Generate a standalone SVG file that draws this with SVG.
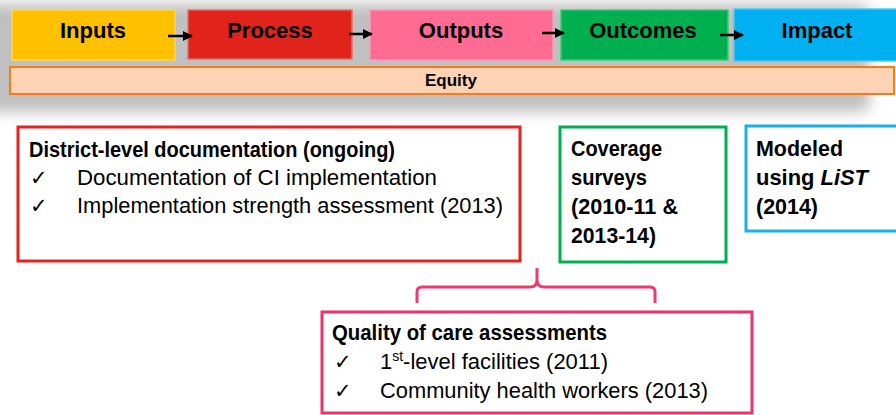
<svg xmlns="http://www.w3.org/2000/svg" width="896" height="415" viewBox="0 0 896 415">
<defs>
<filter id="blur" x="-10%" y="-30%" width="120%" height="160%"><feGaussianBlur stdDeviation="7"/></filter>
<marker id="arr" viewBox="0 0 10 10" refX="9" refY="5" markerWidth="4" markerHeight="4" orient="auto" markerUnits="strokeWidth"><path d="M0,0 L10,5 L0,10 z" fill="#000"/></marker>
</defs>
<style>
text{font-family:"Liberation Sans",Arial,sans-serif;fill:#000}
.hd{font-size:22px;font-weight:bold;text-anchor:middle}
.b{font-size:22px;font-weight:bold}
.r{font-size:22px}
.ck{font-family:"DejaVu Sans",sans-serif;font-size:21px}
.box{fill:#fff;stroke-width:3}
.conn{fill:none;stroke:#000;stroke-width:2.5;marker-end:url(#arr)}
</style>
<rect x="-30" y="4" width="900" height="108" rx="10" fill="#c0c0c0" filter="url(#blur)"/>
<g id="inputs"><rect x="12" y="10" width="163" height="50" fill="#FFC000" stroke="#FFD84A" stroke-width="1.5"/><text class="hd" x="93" y="38">Inputs</text></g>
<g id="process"><rect x="188" y="10" width="164" height="49" fill="#E0241B" stroke="#F06A60" stroke-width="1.5"/><text class="hd" x="270" y="38">Process</text></g>
<g id="outputs"><rect x="370" y="10" width="183" height="50" fill="#FF6B92" stroke="#FF9AB6" stroke-width="1.5"/><text class="hd" x="461" y="38">Outputs</text></g>
<g id="outcomes"><rect x="561" y="10" width="167" height="50" fill="#00B050" stroke="#3ACB7A" stroke-width="1.5"/><text class="hd" x="643" y="38">Outcomes</text></g>
<g id="impact"><rect x="734" y="9" width="170" height="52" fill="#00B0F0" stroke="#45CCFA" stroke-width="1.5"/><text class="hd" x="817" y="38">Impact</text></g>
<g id="connectors">
<line class="conn" x1="168" y1="36" x2="192" y2="36"/>
<line class="conn" x1="349" y1="34" x2="372" y2="34"/>
<line class="conn" x1="542" y1="33" x2="564" y2="33"/>
<line class="conn" x1="720" y1="35" x2="743" y2="35"/>
<path d="M417,303 L417,292 Q417,287 422,287 L530,287 Q537,287 537,280 L537,268 M537,280 Q537,287 544,287 L650,287 Q655,287 655,292 L655,303" fill="none" stroke="#EE3A6E" stroke-width="3"/>
</g>
<g id="equity"><rect x="10" y="67" width="884" height="27" fill="#FDD3B4" stroke="#F47B20" stroke-width="2"/><text x="451" y="86" style="font-size:17px;font-weight:bold;text-anchor:middle">Equity</text></g>
<g id="district">
<rect class="box" x="18" y="127" width="502" height="134" stroke="#E8221E"/>
<text class="b" x="29" y="157" textLength="366" lengthAdjust="spacingAndGlyphs">District-level documentation (ongoing)</text>
<text class="ck" x="30" y="185">✓</text>
<text class="r" x="77" y="185" textLength="360" lengthAdjust="spacingAndGlyphs">Documentation of CI implementation</text>
<text class="ck" x="30" y="213">✓</text>
<text class="r" x="77" y="213" textLength="426" lengthAdjust="spacingAndGlyphs">Implementation strength assessment (2013)</text>
</g>
<g id="coverage">
<rect class="box" x="560" y="127" width="166" height="135" stroke="#00B050"/>
<text class="b" x="571" y="156" textLength="91" lengthAdjust="spacingAndGlyphs">Coverage</text>
<text class="b" x="571" y="185" textLength="76" lengthAdjust="spacingAndGlyphs">surveys</text>
<text class="b" x="571" y="214" textLength="107" lengthAdjust="spacingAndGlyphs">(2010-11 &amp;</text>
<text class="b" x="571" y="243" textLength="85" lengthAdjust="spacingAndGlyphs">2013-14)</text>
</g>
<g id="modeled">
<rect class="box" x="746" y="126" width="160" height="105" stroke="#1AB0EE"/>
<text class="b" x="756" y="156" textLength="87" lengthAdjust="spacingAndGlyphs">Modeled</text>
<text class="b" x="756" y="185" textLength="112" lengthAdjust="spacingAndGlyphs">using <tspan font-style="italic">LiST</tspan></text>
<text class="b" x="756" y="214" textLength="62" lengthAdjust="spacingAndGlyphs">(2014)</text>
</g>
<g id="quality">
<rect class="box" x="322" y="312" width="430" height="101" stroke="#F0306A"/>
<text class="b" x="332" y="340" textLength="275" lengthAdjust="spacingAndGlyphs">Quality of care assessments</text>
<text class="ck" x="334" y="369">✓</text>
<text class="r" x="380" y="369" textLength="228" lengthAdjust="spacingAndGlyphs">1<tspan font-size="14" dy="-8">st</tspan><tspan dy="8">-level facilities (2011)</tspan></text>
<text class="ck" x="334" y="398">✓</text>
<text class="r" x="380" y="398" textLength="328" lengthAdjust="spacingAndGlyphs">Community health workers (2013)</text>
</g>
</svg>
